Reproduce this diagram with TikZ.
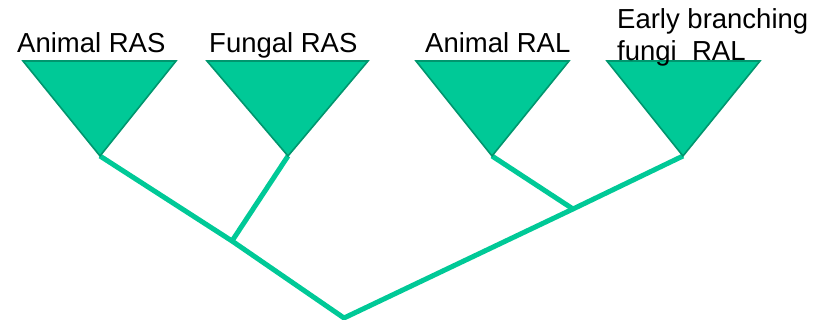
\documentclass[tikz,border=0pt]{standalone}
\usepackage{fontspec}
\setmainfont{Liberation Sans}
\begin{document}
\definecolor{cladefill}{RGB}{0,201,151}
\definecolor{cladeedge}{RGB}{0,150,110}
\begin{tikzpicture}[x=1pt,y=-1pt,
  clade/.style={fill=cladefill,draw=cladeedge,line width=1.6pt,line join=miter},
  branch/.style={draw=cladefill,line width=5pt},
  label/.style={anchor=base west,inner sep=0pt,font=\fontsize{27.5}{32}\selectfont}]
\useasboundingbox (0,0) rectangle (816,320);

% clade apexes and internal nodes of the tree
\coordinate (a1) at (100,156);
\coordinate (a2) at (288,156);
\coordinate (a3) at (492,156);
\coordinate (a4) at (683,156);
\coordinate (j1) at (232,241);
\coordinate (j2) at (573,209);
\coordinate (root) at (344,318);

% branches
\draw[branch] (a1) -- (j1) -- (root) -- (j2) -- (a4);
\draw[branch] (a2) -- (j1);
\draw[branch] (a3) -- (j2);

% collapsed clades
\draw[clade] (23,61) -- (176,61) -- (a1) -- cycle;
\draw[clade] (207,61) -- (368,61) -- (a2) -- cycle;
\draw[clade] (416,61) -- (569,61) -- (a3) -- cycle;
\draw[clade] (607,61) -- (760,61) -- (a4) -- cycle;

% clade labels
\node[label] (l1) at (17,53) {Animal RAS};
\node[label] (l2) at (209,53) {Fungal RAS};
\node[label] (l3) at (425,53) {Animal RAL};
\node[label] (l4a) at (617,29) {Early branching};
\node[label] (l4b) at (617,61) {fungi\ \ RAL};
\end{tikzpicture}
\end{document}
